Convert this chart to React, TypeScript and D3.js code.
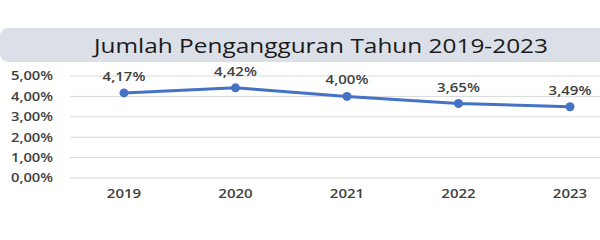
import React from "react";
import * as d3 from "d3";

const years: string[] = ["2019", "2020", "2021", "2022", "2023"];
const rates: number[] = [4.17, 4.42, 4.0, 3.65, 3.49];
const yTicks: number[] = [0, 1, 2, 3, 4, 5];
const title = "Jumlah Pengangguran Tahun 2019-2023";

const fmt = (v: number) => v.toFixed(2).replace(".", ",") + "%";

export default function App() {
  const W = 600;
  const H = 240;
  const x = d3.scalePoint<string>().domain(years).range([124, 570]);
  const y = d3.scaleLinear().domain([0, 5]).range([178, 76]);
  const line = d3
    .line<number>()
    .x((_, i) => x(years[i]) as number)
    .y((d) => y(d));
  const font = "'Open Sans', sans-serif";
  const textColor = "#404040";
  const sx = 1.25;

  return (
    <svg
      width={W}
      height={H}
      style={{ position: "absolute", left: 0, top: 0, background: "#fff" }}
    >
      <rect x={0} y={28} width={640} height={34} rx={8} fill="#dbdfe7" />
      <text
        transform={`translate(321,52.5) scale(1.22,1)`}
        textAnchor="middle"
        fontFamily={font}
        fontSize={20}
        fill="#1a1a1a"
      >
        {title}
      </text>
      {yTicks.map((t) => (
        <g key={t}>
          <line x1={70} x2={600} y1={y(t)} y2={y(t)} stroke="#d9d9d9" strokeWidth={1} />
          <text
            transform={`translate(53,${y(t) + 4.4}) scale(${sx},1)`}
            textAnchor="end"
            fontFamily={font}
            fontWeight={600}
            fontSize={11.8}
            fill={textColor}
          >
            {fmt(t)}
          </text>
        </g>
      ))}
      {years.map((yr) => (
        <text
          key={yr}
          transform={`translate(${x(yr)},197.5) scale(${sx},1)`}
          textAnchor="middle"
          fontFamily={font}
          fontWeight={600}
          fontSize={12}
          fill={textColor}
        >
          {yr}
        </text>
      ))}
      <path d={line(rates) || ""} fill="none" stroke="#4472c4" strokeWidth={3} />
      {rates.map((v, i) => (
        <g key={i}>
          <circle cx={x(years[i]) as number} cy={y(v)} r={4.5} fill="#4472c4" />
          <text
            transform={`translate(${x(years[i])},${y(v) - 12}) scale(${sx},1)`}
            textAnchor="middle"
            fontFamily={font}
            fontWeight={600}
            fontSize={12}
            fill={textColor}
          >
            {fmt(v)}
          </text>
        </g>
      ))}
    </svg>
  );
}
